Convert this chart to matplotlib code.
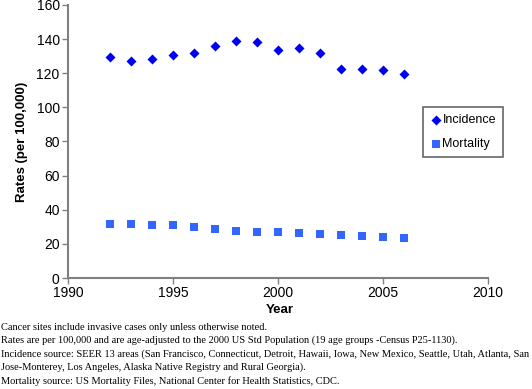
import numpy as np
import matplotlib
matplotlib.use("Agg")
import matplotlib.pyplot as plt

# values
years = [1992, 1993, 1994, 1995, 1996, 1997, 1998, 1999, 2000, 2001, 2002, 2003, 2004, 2005, 2006]
incidence = [129.7, 127.0, 128.5, 130.7, 131.9, 135.8, 138.7, 138.1, 133.8, 135.0, 131.7, 122.5, 122.7, 121.9, 119.5]
mortality = [31.9, 31.5, 31.3, 30.9, 29.8, 28.6, 27.8, 26.8, 26.8, 26.2, 25.6, 25.2, 24.5, 24.3, 23.7]

x_ticks = [1990, 1995, 2000, 2005, 2010]
y_ticks = [0, 20, 40, 60, 80, 100, 120, 140, 160]

notes = [
    "Cancer sites include invasive cases only unless otherwise noted.",
    "Rates are per 100,000 and are age-adjusted to the 2000 US Std Population (19 age groups -Census P25-1130).",
    "Incidence source: SEER 13 areas (San Francisco, Connecticut, Detroit, Hawaii, Iowa, New Mexico, Seattle, Utah, Atlanta, San",
    "Jose-Monterey, Los Angeles, Alaska Native Registry and Rural Georgia).",
    "Mortality source: US Mortality Files, National Center for Health Statistics, CDC.",
]

plt.rcParams["font.family"] = ["Liberation Sans", "DejaVu Sans"]

W, H = 532, 389
fig = plt.figure(figsize=(W / 100, H / 100), dpi=100)
ax = fig.add_axes([68 / W, 1 - 278 / H, (488 - 68) / W, (278 - 5) / H])

ax.scatter(years, incidence, marker="D", s=26, color="#0000F0", linewidths=0,
           label="Incidence", zorder=3)
ax.scatter(years, mortality, marker="s", s=40, color="#3366FF", linewidths=0,
           label="Mortality", zorder=3)

ax.set_xlim(1990, 2010)
ax.set_ylim(0, 160)
ax.set_xticks(x_ticks)
ax.set_yticks(y_ticks)
ax.tick_params(labelsize=10, length=4, width=1, color="#808080", pad=2)
for side in ["top", "right"]:
    ax.spines[side].set_visible(False)
for side in ["left", "bottom"]:
    ax.spines[side].set_color("#808080")
    ax.spines[side].set_linewidth(1.5)

ax.set_ylabel("Rates (per 100,000)", fontsize=9.5, fontweight="bold", labelpad=6)
ax.set_xlabel("Year", fontsize=9.5, fontweight="bold")
ax.xaxis.set_label_coords(0.505, -0.095)

leg = ax.legend(loc="upper left", bbox_to_anchor=(423 / W, 1 - 107 / H),
                bbox_transform=fig.transFigure, frameon=True, fancybox=False,
                fontsize=9, handletextpad=0.1, handlelength=0.9,
                labelspacing=1.0, borderpad=0.55, borderaxespad=0,
                scatterpoints=1)
leg.get_frame().set_edgecolor("#404040")
leg.get_frame().set_linewidth(1.2)

for i, line in enumerate(notes):
    fig.text(1 / W, 1 - (327 + i * 13.5) / H, line, fontsize=7.45,
             family="Liberation Serif", va="center", ha="left")

fig.savefig("out.png", dpi=100)
